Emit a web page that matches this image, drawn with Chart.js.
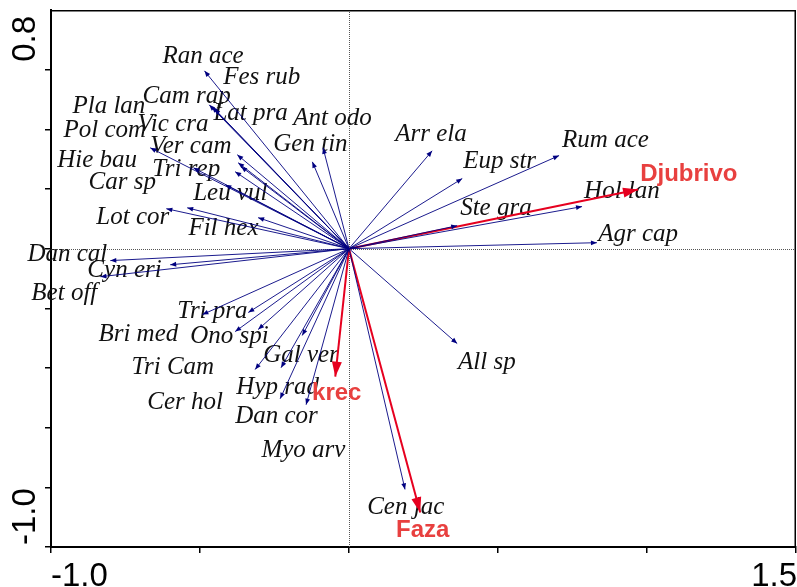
<!DOCTYPE html>
<html>
<head>
<meta charset="utf-8">
<script src="https://cdn.jsdelivr.net/npm/chart.js@4/dist/chart.umd.min.js"></script>
<style>
  html, body { margin: 0; padding: 0; background: #fff; }
  canvas { display: block; }
</style>
</head>
<body>
<canvas id="biplot" width="797" height="587"></canvas>
<script>
// Species scores (arrow tips) on CCA axes 1 and 2
const speciesNames = [
  'Ran ace', 'Cam rap', 'Lat pra', 'Fes rub', 'Pla lan', 'Vic cra', 'Pol com',
  'Ver cam', 'Hie bau', 'Tri rep', 'Car sp', 'Ant odo', 'Gen tin',
  'Lot cor', 'Leu vul', 'Fil hex', 'Dan cal', 'Cyn eri', 'Bet off',
  'Bri med', 'Tri pra', 'Ono spi', 'Tri Cam', 'Gal ver', 'Cer hol', 'Hyp rad',
  'Dan cor', 'Myo arv',
  'Arr ela', 'Eup str', 'Rum ace', 'Hol lan', 'Ste gra', 'Agr cap', 'All sp', 'Cen jac'
];
const speciesX = [
  -0.485, -0.469, -0.452, -0.460, -0.667, -0.522, -0.415,
  -0.375, -0.372, -0.362, -0.382, -0.087, -0.123,
  -0.613, -0.543, -0.305, -0.801, -0.600, -0.834,
  -0.492, -0.338, -0.382, -0.305, -0.157, -0.315, -0.228,
  -0.231, -0.144,
  0.279, 0.380, 0.705, 0.782, 0.363, 0.832, 0.363, 0.188
];
const speciesY = [
  0.596, 0.482, 0.469, 0.476, 0.338, 0.271, 0.214,
  0.315, 0.288, 0.275, 0.258, 0.338, 0.291,
  0.134, 0.137, 0.104, -0.040, -0.054, -0.094,
  -0.221, -0.214, -0.278, -0.271, -0.291, -0.405, -0.399,
  -0.503, -0.523,
  0.328, 0.235, 0.312, 0.141, 0.077, 0.020, -0.318, -0.807
];

// Environmental variables (biplot arrows)
const envNames = ['Djubrivo', 'krec', 'Faza'];
const envX = [0.970, -0.046, 0.239];
const envY = [0.198, -0.429, -0.884];

// Axis extents and the end labels printed on them
const xRange = [-1.0, 1.5];
const yRange = [-1.0, 0.8];
const xStep = 0.5;
const yStep = 0.2;

// Where each name is written (left end of the baseline, in axis units)
const speciesLabelAt = [
  [-0.626, 0.623], [-0.693, 0.489], [-0.455, 0.432], [-0.422, 0.553], [-0.928, 0.456],
  [-0.710, 0.395], [-0.958, 0.375], [-0.667, 0.322], [-0.979, 0.275], [-0.660, 0.245],
  [-0.874, 0.201], [-0.187, 0.415], [-0.254, 0.328], [-0.848, 0.084], [-0.523, 0.164],
  [-0.539, 0.047], [-1.079, -0.040], [-0.878, -0.094], [-1.066, -0.171],
  [-0.841, -0.308], [-0.576, -0.231], [-0.533, -0.315], [-0.730, -0.419], [-0.288, -0.379],
  [-0.677, -0.536], [-0.378, -0.486], [-0.382, -0.586], [-0.294, -0.697],
  [0.155, 0.362], [0.383, 0.271], [0.715, 0.342], [0.789, 0.171], [0.373, 0.114],
  [0.836, 0.027], [0.366, -0.405], [0.061, -0.891]
];
const envLabelAt = [[0.977, 0.228], [-0.124, -0.506], [0.158, -0.965]];

const SPECIES_COLOR = '#000080';
const ENV_COLOR = '#e6001f';
const ENV_TEXT = '#e8403f';

function arrowDataset(x, y, color, width, kind) {
  return {
    data: [{ x: 0, y: 0 }, { x: x, y: y }],
    showLine: true,
    borderColor: color,
    backgroundColor: color,
    borderWidth: width,
    pointRadius: 0,
    pointHoverRadius: 0,
    kind: kind
  };
}

const datasets = [];
speciesNames.forEach((n, i) => datasets.push(arrowDataset(speciesX[i], speciesY[i], SPECIES_COLOR, 0.9, 'species')));
envNames.forEach((n, i) => datasets.push(arrowDataset(envX[i], envY[i], ENV_COLOR, 2, 'env')));

function drawHead(ctx, x0, y0, x1, y1, len, half, color) {
  const a = Math.atan2(y1 - y0, x1 - x0);
  const c = Math.cos(a), s = Math.sin(a);
  const bx = x1 - len * c, by = y1 - len * s;
  ctx.beginPath();
  ctx.moveTo(x1, y1);
  ctx.lineTo(bx - half * s, by + half * c);
  ctx.lineTo(bx + half * s, by - half * c);
  ctx.closePath();
  ctx.fillStyle = color;
  ctx.fill();
}

const biplotDecor = {
  id: 'biplotDecor',
  beforeDatasetsDraw(chart) {
    const { ctx, chartArea: a, scales: { x, y } } = chart;
    ctx.save();
    // dotted zero lines
    ctx.strokeStyle = '#555';
    ctx.lineWidth = 1;
    ctx.setLineDash([1, 1]);
    const x0 = Math.round(x.getPixelForValue(0)) + 0.5;
    const y0 = Math.round(y.getPixelForValue(0)) + 0.5;
    ctx.beginPath();
    ctx.moveTo(x0, a.top); ctx.lineTo(x0, a.bottom);
    ctx.moveTo(a.left, y0); ctx.lineTo(a.right, y0);
    ctx.stroke();
    ctx.setLineDash([]);
    // top and right frame
    ctx.strokeStyle = '#000';
    ctx.lineWidth = 1.5;
    ctx.beginPath();
    ctx.moveTo(a.left, a.top + 0.75); ctx.lineTo(a.right - 0.75, a.top + 0.75);
    ctx.lineTo(a.right - 0.75, a.bottom);
    ctx.stroke();
    // species names
    ctx.fillStyle = '#111';
    ctx.font = 'italic 25px "Liberation Serif", "Times New Roman", serif';
    ctx.textAlign = 'left';
    ctx.textBaseline = 'alphabetic';
    speciesNames.forEach((n, i) => {
      const p = speciesLabelAt[i];
      ctx.fillText(n, x.getPixelForValue(p[0]), y.getPixelForValue(p[1]));
    });
    ctx.restore();
  },
  afterDatasetsDraw(chart) {
    const { ctx, scales: { x, y } } = chart;
    ctx.save();
    chart.data.datasets.forEach((ds, i) => {
      const pts = chart.getDatasetMeta(i).data;
      const env = ds.kind === 'env';
      drawHead(ctx, pts[0].x, pts[0].y, pts[1].x, pts[1].y, env ? 15 : 6, env ? 5 : 2.4, ds.borderColor);
    });
    // environmental variable names
    ctx.fillStyle = ENV_TEXT;
    ctx.font = 'bold 24px "Liberation Sans", Arial, sans-serif';
    ctx.textAlign = 'left';
    ctx.textBaseline = 'alphabetic';
    envNames.forEach((n, i) => {
      const p = envLabelAt[i];
      ctx.fillText(n, x.getPixelForValue(p[0]), y.getPixelForValue(p[1]));
    });
    // axis end labels
    ctx.fillStyle = '#000';
    ctx.font = '33px "Liberation Sans", Arial, sans-serif';
    ctx.textBaseline = 'alphabetic';
    ctx.textAlign = 'left';
    ctx.fillText(xRange[0].toFixed(1), x.getPixelForValue(xRange[0]), 586);
    ctx.textAlign = 'right';
    ctx.fillText(xRange[1].toFixed(1), x.getPixelForValue(xRange[1]) + 1, 586);
    // vertical axis labels, rotated
    const bx = 35;
    ctx.save();
    ctx.translate(bx, y.getPixelForValue(yRange[0]) - 2);
    ctx.rotate(-Math.PI / 2);
    ctx.textAlign = 'left';
    ctx.fillText(yRange[0].toFixed(1), 0, 0);
    ctx.restore();
    ctx.save();
    ctx.translate(bx, y.getPixelForValue(yRange[1]) + 6);
    ctx.rotate(-Math.PI / 2);
    ctx.textAlign = 'right';
    ctx.fillText(yRange[1].toFixed(1), 0, 0);
    ctx.restore();
    ctx.restore();
  }
};

new Chart(document.getElementById('biplot'), {
  type: 'scatter',
  data: { datasets },
  options: {
    responsive: false,
    animation: false,
    devicePixelRatio: 1,
    layout: { padding: { top: 10, right: 1, left: 0, bottom: 0 } },
    plugins: { legend: { display: false }, tooltip: { enabled: false } },
    events: [],
    scales: {
      x: {
        type: 'linear',
        min: xRange[0], max: xRange[1],
        ticks: { stepSize: xStep, display: false },
        grid: { drawOnChartArea: false, drawTicks: true, tickLength: 6, color: '#000', lineWidth: 1.5 },
        border: { display: true, color: '#000', width: 2 },
        afterFit(s) { s.height = 40; }
      },
      y: {
        type: 'linear',
        min: yRange[0], max: yRange[1],
        ticks: { stepSize: yStep, display: false },
        grid: {
          drawOnChartArea: false, drawTicks: true, tickLength: 6, lineWidth: 1.5,
          color: (c) => (c.tick && c.tick.value > yRange[1] - 0.01) ? 'rgba(0,0,0,0)' : '#000'
        },
        border: { display: true, color: '#000', width: 2 },
        afterFit(s) { s.width = 51; }
      }
    }
  },
  plugins: [biplotDecor]
});
</script>
</body>
</html>
